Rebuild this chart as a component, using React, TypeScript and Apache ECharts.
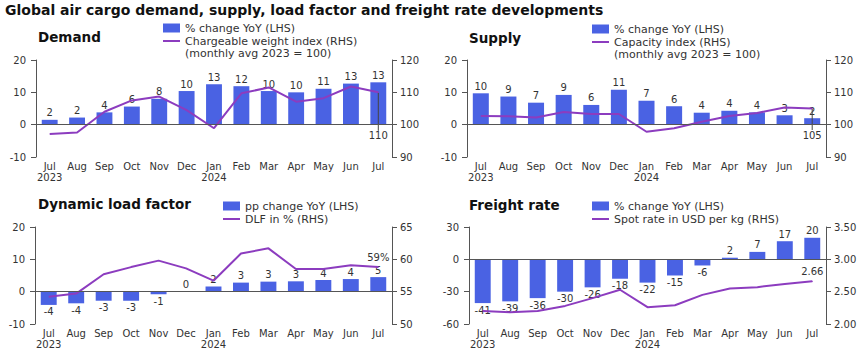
import React, { useEffect, useRef } from 'react';
import * as echarts from 'echarts';

// ---------- data ----------
const months = ['Jul\n2023', 'Aug', 'Sep', 'Oct', 'Nov', 'Dec', 'Jan\n2024', 'Feb', 'Mar', 'Apr', 'May', 'Jun', 'Jul'];

const demandYoY = [1.5, 2.2, 3.8, 5.6, 8.0, 10.4, 12.5, 11.9, 10.4, 10.0, 11.1, 12.7, 13.1];
const chargeableWeightIndex = [97.1, 97.6, 104.0, 107.5, 108.7, 104.5, 98.9, 109.7, 111.5, 107.1, 108.2, 111.8, 110.0];

const supplyYoY = [9.7, 8.7, 6.8, 9.2, 6.1, 10.8, 7.4, 5.7, 3.7, 4.3, 3.8, 2.9, 2.0];
const capacityIndex = [102.7, 102.6, 102.2, 103.9, 103.3, 103.3, 97.8, 98.9, 100.9, 102.7, 103.6, 105.3, 105.0];

const dlfChangePP = [-4.1, -3.6, -2.8, -2.8, -0.8, 0, 1.6, 2.8, 3.1, 3.2, 3.6, 3.9, 4.5];
const dlfPercent = [54.2, 54.7, 57.7, 58.8, 59.8, 58.6, 56.7, 60.9, 61.7, 58.5, 58.5, 59.1, 58.8];

const freightYoY = [-40.6, -39, -36, -30, -26, -18, -21.6, -15, -5.7, 1.5, 6.9, 16.8, 20];
const spotRateUSD = [2.2, 2.18, 2.2, 2.28, 2.4, 2.53, 2.26, 2.29, 2.45, 2.55, 2.57, 2.62, 2.66];

const leftTicks = [
  { min: -10, max: 20, interval: 10 },
  { min: -10, max: 20, interval: 10 },
  { min: -10, max: 20, interval: 10 },
  { min: -60, max: 30, interval: 30 },
];
const rightTicks = [
  { min: 90, max: 120, interval: 10 },
  { min: 90, max: 120, interval: 10 },
  { min: 50, max: 65, interval: 5 },
  { min: 2, max: 3.5, interval: 0.5 },
];

const BAR_NAME = '% change YoY (LHS)';
const panelTitles = ['Demand', 'Supply', 'Dynamic load factor', 'Freight rate'];
const barNames = [BAR_NAME, BAR_NAME, 'pp change YoY (LHS)', BAR_NAME];
const lineNames = ['Chargeable weight index (RHS)', 'Capacity index (RHS)', 'DLF in % (RHS)', 'Spot rate in USD per kg (RHS)'];
const legendNote = '(monthly avg 2023 = 100)';
const barSeries = [demandYoY, supplyYoY, dlfChangePP, freightYoY];
const lineSeries = [chargeableWeightIndex, capacityIndex, dlfPercent, spotRateUSD];

// ---------- style ----------
const BAR = '#4A62E3';
const LINE = '#8C3CBF';
const TEXT = '#333333';
const AXIS = '#555555';
const FONT = 'DejaVu Sans';

const grids = [
  { left: 36, top: 60, width: 356, height: 97 },
  { left: 467, top: 60, width: 359, height: 97 },
  { left: 35, top: 227, width: 357, height: 97 },
  { left: 469, top: 227, width: 357, height: 97 },
];

const lastLabelStyles: any[] = [
  { position: 'bottom', fmt: (v: number) => String(Math.round(v)), dy: 34 },
  { position: 'bottom', fmt: (v: number) => String(Math.round(v)), dy: 17 },
  { position: 'top', fmt: (v: number) => Math.round(v) + '%', dy: 0 },
  { position: 'top', fmt: (v: number) => v.toFixed(2), dy: 0 },
];

function buildOption() {
  const xAxis: any[] = [];
  const yAxis: any[] = [];
  const series: any[] = [];
  grids.forEach((g, i) => {
    xAxis.push({
      type: 'category',
      gridIndex: i,
      data: months,
      axisLine: { show: false },
      axisTick: { show: false },
      axisLabel: { interval: 0, color: TEXT, fontSize: 10, fontFamily: FONT, margin: 4, lineHeight: 11 },
    });
    const axisCommon = {
      type: 'value',
      gridIndex: i,
      axisLine: { show: true, lineStyle: { color: AXIS, width: 1 } },
      axisTick: { show: true, length: 5, lineStyle: { color: AXIS } },
      splitLine: { show: false },
    };
    yAxis.push({
      ...axisCommon,
      position: 'left',
      ...leftTicks[i],
      axisLabel: { color: TEXT, fontSize: 10, fontFamily: FONT, margin: 10 },
    });
    yAxis.push({
      ...axisCommon,
      position: 'right',
      ...rightTicks[i],
      axisLabel: {
        color: TEXT,
        fontSize: 10,
        fontFamily: FONT,
        margin: 8,
        formatter: (v: number) => (i === 3 ? v.toFixed(2) : String(v)),
      },
    });
    series.push({
      type: 'bar',
      name: barNames[i],
      xAxisIndex: i,
      yAxisIndex: 2 * i,
      barWidth: '58%',
      itemStyle: { color: BAR },
      z: 2,
      data: barSeries[i].map((v) => ({ value: v, label: { position: v < 0 ? 'bottom' : 'top' } })),
      label: {
        show: true,
        color: TEXT,
        fontSize: 10,
        fontFamily: FONT,
        distance: 2,
        backgroundColor: '#ffffff',
        padding: [0, 1],
        formatter: (p: any) => String(Math.round(p.value)),
      },
      markLine: {
        silent: true,
        symbol: ['none', 'none'],
        label: { show: false },
        lineStyle: { color: AXIS, width: 1, type: 'solid' },
        data: [{ yAxis: 0 }],
      },
    });
    const ls = lastLabelStyles[i];
    const vals = lineSeries[i];
    series.push({
      type: 'line',
      name: lineNames[i],
      xAxisIndex: i,
      yAxisIndex: 2 * i + 1,
      symbol: 'none',
      lineStyle: { color: LINE, width: 2 },
      itemStyle: { color: LINE },
      z: 3,
      labelLayout: ls.dy ? { dy: ls.dy } : undefined,
      labelLine: { show: ls.dy > 0, lineStyle: { color: '#444', width: 1 } },
      data: vals.map((v, k) =>
        k === vals.length - 1
          ? {
              value: v,
              symbol: 'circle',
              symbolSize: 1,
              label: {
                show: true,
                position: ls.position,
                distance: 4,
                color: TEXT,
                fontSize: 10,
                fontFamily: FONT,
                formatter: (p: any) => ls.fmt(p.value),
              },
            }
          : v
      ),
    });
  });

  const legendPos = [
    { left: 163, top: 22 },
    { left: 592, top: 23 },
    { left: 223, top: 200 },
    { left: 592, top: 200 },
  ];
  const legend = legendPos.map((p, i) => ({
    ...p,
    padding: 0,
    orient: 'vertical',
    itemWidth: 17,
    itemHeight: 9,
    itemGap: 1,
    selectedMode: false,
    textStyle: { fontSize: 11, lineHeight: 12, color: TEXT, fontFamily: FONT },
    data: [
      { name: barNames[i], icon: 'rect' },
      { name: lineNames[i], icon: 'path://M0,0H20V2.3H0Z' },
    ],
  }));

  const titlePos = [
    { left: 38, top: 30 },
    { left: 469, top: 31 },
    { left: 38, top: 197 },
    { left: 469, top: 198 },
  ];
  const graphic: any[] = [
    {
      type: 'text',
      left: 5,
      top: 3,
      style: { text: 'Global air cargo demand, supply, load factor and freight rate developments', fill: '#111', font: `bold 14px "${FONT}"` },
    },
    ...titlePos.map((p, i) => ({
      type: 'text',
      ...p,
      style: { text: panelTitles[i], fill: '#111', font: `bold 13.5px "${FONT}"` },
    })),
    { type: 'text', left: 185, top: 48, style: { text: legendNote, fill: TEXT, font: `11px "${FONT}"` } },
    { type: 'text', left: 614, top: 49, style: { text: legendNote, fill: TEXT, font: `11px "${FONT}"` } },
  ];

  return {
    animation: false,
    backgroundColor: '#ffffff',
    grid: grids,
    xAxis,
    yAxis,
    series,
    legend,
    graphic,
  };
}

export default function App() {
  const ref = useRef<HTMLDivElement>(null);
  useEffect(() => {
    if (!ref.current) return;
    const chart = echarts.init(ref.current, undefined, { renderer: 'svg' });
    chart.setOption(buildOption() as any);
    return () => chart.dispose();
  }, []);
  return <div ref={ref} style={{ position: 'fixed', left: 0, top: 0, width: 868, height: 355 }} />;
}
